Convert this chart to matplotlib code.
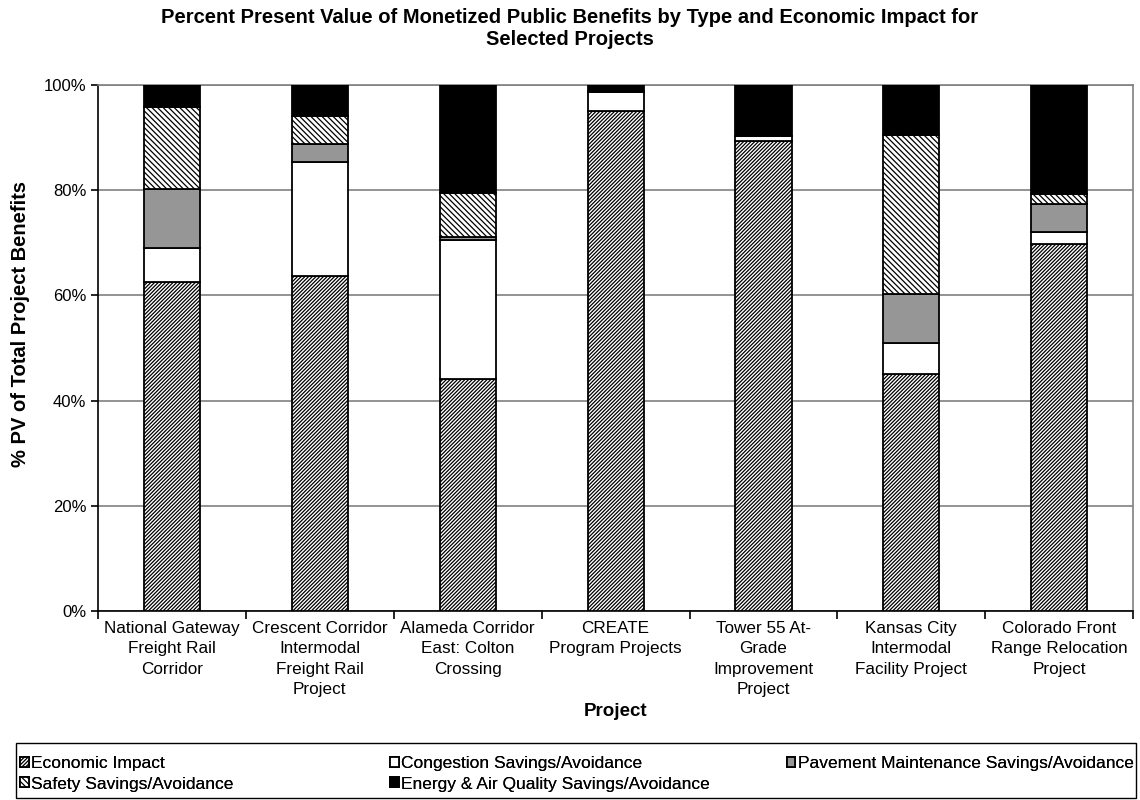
import numpy as np
import matplotlib.pyplot as plt
from matplotlib.patches import Rectangle

plt.rcParams['font.family'] = ['Liberation Sans', 'DejaVu Sans']
plt.rcParams['hatch.linewidth'] = 0.9

projects = [
    'National Gateway\nFreight Rail\nCorridor',
    'Crescent Corridor\nIntermodal\nFreight Rail\nProject',
    'Alameda Corridor\nEast: Colton\nCrossing',
    'CREATE\nProgram Projects',
    'Tower 55 At-\nGrade\nImprovement\nProject',
    'Kansas City\nIntermodal\nFacility Project',
    'Colorado Front\nRange Relocation\nProject',
]

economic = [62.5, 63.6, 44.1, 95.1, 89.4, 45.1, 69.8]
congestion = [6.5, 21.7, 26.4, 3.5, 0.8, 5.8, 2.3]
pavement = [11.2, 3.5, 0.6, 0.1, 0.0, 9.3, 5.3]
safety = [15.6, 5.3, 8.3, 0.1, 0.0, 30.2, 1.8]
energy = [4.2, 5.9, 20.6, 1.2, 9.8, 9.6, 20.8]

series = [
    ('Economic Impact', economic, 'white', '/' * 9),
    ('Congestion Savings/Avoidance', congestion, 'white', None),
    ('Pavement Maintenance Savings/Avoidance', pavement, '#969696', None),
    ('Safety Savings/Avoidance', safety, 'white', '\\' * 6),
    ('Energy & Air Quality Savings/Avoidance', energy, 'black', None),
]

fig = plt.figure(figsize=(11.4, 8), dpi=100)
ax = fig.add_axes([0.086, 0.236, 0.908, 0.658])

x = np.arange(len(projects))
bottom = np.zeros(len(projects))
handles = {}
for name, vals, color, hatch in series:
    vals = np.array(vals)
    bars = ax.bar(x, vals, 0.38, bottom=bottom, color=color, edgecolor='black',
                  linewidth=1.3, hatch=hatch, zorder=3, label=name)
    handles[name] = bars
    bottom += vals

ax.set_xlim(-0.5, len(projects) - 0.5)
ax.set_ylim(0, 100)
ax.set_yticks(np.arange(0, 101, 20))
ax.set_yticklabels([f'{v}%' for v in range(0, 101, 20)], fontsize=12)
ax.yaxis.grid(True, color='#808080', linewidth=1.2, zorder=0)

ax.set_xticks(x)
ax.set_xticklabels(projects, fontsize=12.3, linespacing=1.45)
ax.set_xticks(np.arange(-0.5, len(projects)), minor=True)
ax.tick_params(axis='x', which='major', length=0, pad=7)
ax.tick_params(axis='x', which='minor', length=6, width=1.2, direction='out')
ax.tick_params(axis='y', length=5, width=1.2, direction='out')

for s in ['left', 'bottom']:
    ax.spines[s].set_linewidth(1.2)
for s in ['top', 'right']:
    ax.spines[s].set_color('#808080')
    ax.spines[s].set_linewidth(1.2)

ax.set_ylabel('% PV of Total Project Benefits', fontsize=14.5, fontweight='bold')
ax.yaxis.set_label_coords(-0.066, 0.546)
ax.set_xlabel('Project', fontsize=13.5, fontweight='bold', labelpad=4)

fig.suptitle('Percent Present Value of Monetized Public Benefits by Type and Economic Impact for\nSelected Projects',
             fontsize=14.5, fontweight='bold', y=0.99, linespacing=1.2)

# legend frame drawn by hand, columns placed like the original
fig.patches.append(Rectangle((0.014, 0.0025), 0.9825, 0.0685, transform=fig.transFigure,
                             fill=False, edgecolor='black', linewidth=1.0))
columns = [
    (0.0175, ['Economic Impact', 'Safety Savings/Avoidance']),
    (0.342, ['Congestion Savings/Avoidance', 'Energy & Air Quality Savings/Avoidance']),
    (0.690, ['Pavement Maintenance Savings/Avoidance']),
]
for xpos, names in columns:
    leg = fig.legend([handles[n] for n in names], names, loc='upper left',
                     bbox_to_anchor=(xpos, 0.0545), fontsize=12.5, frameon=False,
                     handlelength=0.5, handleheight=0.5, handletextpad=0.15,
                     borderaxespad=0, borderpad=0, labelspacing=0.3)
    fig.add_artist(leg)

plt.savefig('out.png', dpi=100)
